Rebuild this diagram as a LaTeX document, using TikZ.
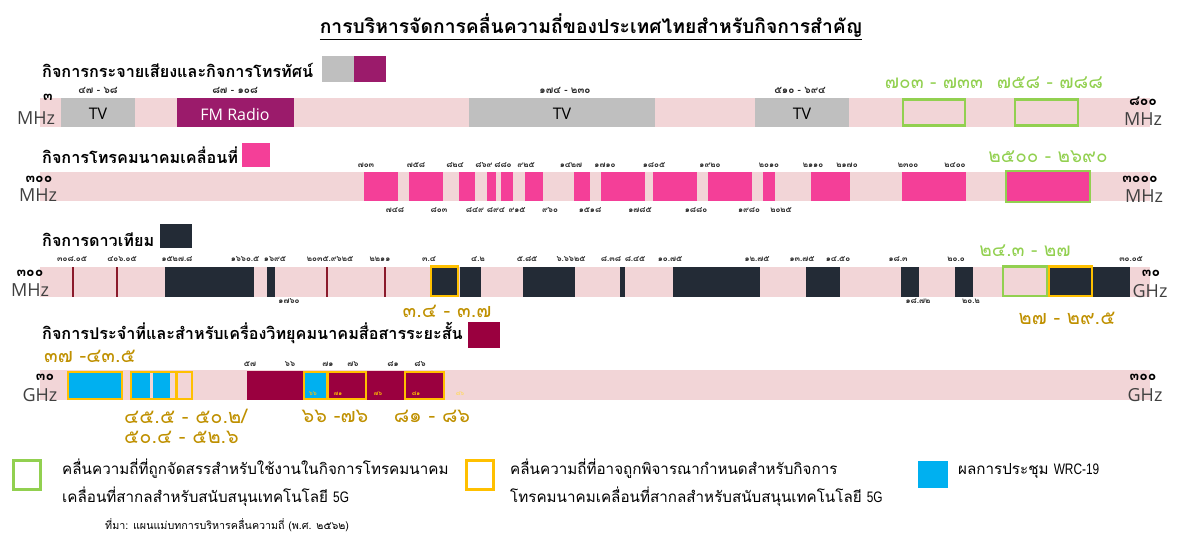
\documentclass[tikz,border=0pt]{standalone}
\usepackage{fontspec}
\setmainfont{Loma}[Script=Thai]
\newfontfamily\latf{Open Sans}
\newfontfamily\latn{Liberation Sans}[FakeStretch=0.78]
\definecolor{bandpink}{HTML}{F2D5D7}
\definecolor{tvgrey}{HTML}{BFBFBF}
\definecolor{fmmag}{HTML}{9B1B6B}
\definecolor{mobpink}{HTML}{F43F98}
\definecolor{satdark}{HTML}{232B36}
\definecolor{fixcrim}{HTML}{9A003F}
\definecolor{wrcblue}{HTML}{00B0F0}
\definecolor{ggreen}{HTML}{92D050}
\definecolor{gyellow}{HTML}{FFC000}
\definecolor{goldtext}{HTML}{BF9000}
\definecolor{thinred}{HTML}{8B1A2B}
\begin{document}
\begin{tikzpicture}[x=1pt,y=-1pt,
  sm/.style={font=\bfseries\fontsize{8}{9}\selectfont, inner sep=0pt, text=black!85},
  rng/.style={font=\bfseries\fontsize{10}{11}\selectfont, inner sep=0pt, text=black!85},
  head/.style={font=\bfseries\fontsize{16.2}{17}\selectfont, anchor=west, inner sep=0pt},
  unit/.style={font=\latf\fontsize{18}{18}\selectfont, text=black!75, inner sep=0pt},
  lim/.style={font=\bfseries\fontsize{14}{14}\selectfont, inner sep=0pt},
  glab/.style={font=\fontsize{19}{19}\selectfont, text=ggreen, inner sep=0pt},
  ylab/.style={font=\fontsize{20}{20}\selectfont, text=goldtext, inner sep=0pt},
  lgd/.style={font=\fontsize{15.2}{17}\selectfont, anchor=west, inner sep=0pt},
  boxtxt/.style={font=\latf\fontsize{16}{16}\selectfont, inner sep=0pt},
  gbox/.style={draw=ggreen, line width=2.5pt},
  ybox/.style={draw=gyellow, line width=2.5pt},
  inlab/.style={font=\bfseries\fontsize{6}{6}\selectfont, inner sep=0pt, text=gyellow}]
\useasboundingbox (0,0) rectangle (1177,535);
% title
\node[font=\bfseries\fontsize{19.3}{21}\selectfont, inner sep=0pt] (title) at (591,27)
  {\underline{การบริหารจัดการคลื่นความถี่ของประเทศไทยสำหรับกิจการสำคัญ}};

% ===== band 1 =====
\node[head] (h1) at (42,70) {กิจการกระจายเสียงและกิจการโทรทัศน์};
\fill[tvgrey] (322,56) rectangle (354,82);
\fill[fmmag] (354,56) rectangle (386,82);
\fill[bandpink] (40,98) rectangle (1150,127);
\fill[tvgrey] (61,98) rectangle (135,127);
\fill[fmmag] (177,98) rectangle (294,127);
\fill[tvgrey] (469,98) rectangle (655,127);
\fill[tvgrey] (755,98) rectangle (849,127);
\draw[gbox] (903,99.5) rectangle (965,125.5);
\draw[gbox] (1015,99.5) rectangle (1078,125.5);
\node[boxtxt] (tv1) at (98,114) {TV};
\node[boxtxt, text=white] (fm) at (235,114) {FM Radio};
\node[boxtxt] (tv2) at (562,114) {TV};
\node[boxtxt] (tv3) at (802,114) {TV};
\node[rng] (r1) at (98,90) {๔๗ - ๖๘};
\node[rng] (r2) at (235,90) {๘๗ - ๑๐๘};
\node[rng] (r3) at (565,90) {๑๗๔ - ๒๓๐};
\node[rng] (r4) at (800,90) {๕๑๐ - ๖๙๔};
\node[glab] (g1) at (934,83) {๗๐๓ - ๗๓๓};
\node[glab] (g2) at (1050,83) {๗๕๘ - ๗๘๘};
\node[lim] (l1a) at (48,97) {๓};
\node[unit] (l1b) at (36,118) {MHz};
\node[lim] (r1a) at (1143,101) {๘๐๐};
\node[unit] (r1b) at (1143,119) {MHz};

% ===== band 2 =====
\node[head] (h2) at (42,155) {กิจการโทรคมนาคมเคลื่อนที่};
\fill[mobpink] (242,143) rectangle (270,167);
\fill[bandpink] (40,172) rectangle (1150,201);
\foreach \a/\b in {364/398,409/443,459/475,487/496,501/513,525/543,574/590,601/645,653/697,708/752,763/775,811/850,902/966,1007/1089}
  \fill[mobpink] (\a,172) rectangle (\b,201);
\draw[gbox] (1006,171) rectangle (1090,202);
\foreach \x/\t in {366/๗๐๓,416/๗๕๘,455/๘๒๔,484/๘๖๙,503/๘๘๐,526/๙๒๕,571/๑๔๒๗,605/๑๗๑๐,654/๑๘๐๕,710/๑๙๒๐,769/๒๐๑๐,813/๒๑๑๐,847/๒๑๗๐,908/๒๓๐๐,955/๒๔๐๐}
  \node[sm] (mt\x) at (\x,165) {\t};
\foreach \x/\t in {395/๗๔๘,439/๘๐๓,475/๘๔๙,496/๘๙๔,517/๙๑๕,550/๙๖๐,590/๑๕๑๘,640/๑๗๘๕,696/๑๘๘๐,749/๑๙๘๐,781/๒๐๒๕}
  \node[sm] (mb\x) at (\x,210) {\t};
\node[glab] (g3) at (1048,157) {๒๕๐๐ - ๒๖๙๐};
\node[lim] (l2a) at (39,179) {๓๐๐};
\node[unit] (l2b) at (38,195) {MHz};
\node[lim] (r2a) at (1140,179) {๓๐๐๐};
\node[unit] (r2b) at (1144,196) {MHz};

% ===== band 3 =====
\node[head] (h3) at (42,240) {กิจการดาวเทียม};
\fill[satdark] (160,224) rectangle (192,248);
\fill[bandpink] (40,267) rectangle (1150,297);
\foreach \x in {73,117,327,385}
  \draw[thinred, line width=1.2pt] (\x,267) -- (\x,297);
\foreach \a/\b in {165/254,267/275,430/459,460/481,523/575,620/625,673/760,806/840,901/919,955/973,1048/1092,1093/1130}
  \fill[satdark] (\a,267) rectangle (\b,297);
\draw[ybox] (431,266.5) rectangle (458,296);
\draw[ybox] (1048.5,266.5) rectangle (1092,296);
\draw[gbox] (1003,266.5) rectangle (1047,296);
\foreach \x/\t in {72/๓๐๘.๐๕,122/๔๐๖.๐๕,177/๑๕๒๗.๘,245/๑๖๖๐.๕,275/๑๖๙๕,330/๒๐๓๕.๙๖๒๕,380/๒๒๑๑,429/๓.๔,478/๔.๒,527/๕.๘๕,571/๖.๖๖๒๕,611/๘.๓๘,635/๘.๔๕,670/๑๐.๗๕,757/๑๒.๗๕,802/๑๓.๗๕,838/๑๔.๕๐,898/๑๘.๓,956/๒๐.๐,1131/๓๐.๐๕}
  \node[sm] (st\x) at (\x,259) {\t};
\foreach \x/\t in {289/๑๗๖๐,918/๑๘.๗๒,971/๒๐.๒}
  \node[sm] (sb\x) at (\x,301) {\t};
\node[glab] (g4) at (1025,251) {๒๔.๓ - ๒๗};
\node[ylab] (y1) at (1067,318) {๒๗ - ๒๙.๕};
\node[ylab] (y2) at (447,311) {๓.๔ - ๓.๗};
\node[lim] (l3a) at (30,273) {๓๐๐};
\node[unit] (l3b) at (30,290) {MHz};
\node[lim] (r3a) at (1151,273) {๓๐};
\node[unit] (r3b) at (1150,291) {GHz};

% ===== band 4 =====
\node[head] (h4) at (42,333) {กิจการประจำที่และสำหรับเครื่องวิทยุคมนาคมสื่อสารระยะสั้น};
\fill[fixcrim] (468,322) rectangle (500,348);
\fill[bandpink] (40,370) rectangle (1150,400);
\fill[wrcblue] (68,371) rectangle (122,400);
\fill[wrcblue] (132,371) rectangle (150,400);
\fill[wrcblue] (153,371) rectangle (170,400);
\fill[fixcrim] (247,371) rectangle (303,400);
\fill[wrcblue] (303,371) rectangle (327,400);
\fill[fixcrim] (327,371) rectangle (444,400);
\draw[ybox] (68,372) rectangle (122,399);
\draw[ybox] (131,372) rectangle (176,399);
\draw[ybox] (177,372) rectangle (192,399);
\draw[ybox] (304,372) rectangle (327,399);
\draw[ybox] (328,372) rectangle (366,399);
\draw[ybox] (405,372) rectangle (444,399);
\foreach \x/\t in {250/๕๗,290/๖๖,328/๗๑,353/๗๖,393/๘๑,420/๘๖}
  \node[sm] (ft\x) at (\x,364) {\t};
\node[inlab] (i1) at (313,394) {๖๖};
\node[inlab] (i2) at (338,394) {๗๑};
\node[inlab] (i3) at (378,394) {๗๖};
\node[inlab] (i4) at (416,394) {๘๑};
\node[inlab, text=gyellow!60] (i5) at (460,394) {๘๖};
\node[ylab] (y3) at (90,356) {๓๗ -๔๓.๕};
\node[ylab, anchor=west] (y4) at (124,416) {๔๕.๕ - ๕๐.๒/};
\node[ylab, anchor=west] (y5) at (124,437) {๕๐.๔ - ๕๒.๖};
\node[ylab] (y6) at (335,416) {๖๖ -๗๖};
\node[ylab] (y7) at (432,416) {๘๑ - ๘๖};
\node[lim] (l4a) at (45,377) {๓๐};
\node[unit] (l4b) at (40,395) {GHz};
\node[lim] (r4a) at (1143,377) {๓๐๐};
\node[unit] (r4b) at (1145,395) {GHz};

% ===== legend =====
\draw[gbox] (13.5,460.5) rectangle (40.5,489.5);
\node[lgd] (t1) at (62,469) {คลื่นความถี่ที่ถูกจัดสรรสำหรับใช้งานในกิจการโทรคมนาคม};
\node[lgd] (t2) at (62,497) {เคลื่อนที่สากลสำหรับสนับสนุนเทคโนโลยี {\latn 5G}};
\draw[ybox] (466.5,460.5) rectangle (493.5,489.5);
\node[lgd] (t3) at (510,469) {คลื่นความถี่ที่อาจถูกพิจารณากำหนดสำหรับกิจการ};
\node[lgd] (t4) at (510,497) {โทรคมนาคมเคลื่อนที่สากลสำหรับสนับสนุนเทคโนโลยี {\latn 5G}};
\fill[wrcblue] (918,461) rectangle (948,488);
\node[lgd] (t5) at (958,471) {ผลการประชุม {\latn WRC-19}};
\node[font=\fontsize{10.7}{12}\selectfont, anchor=west, inner sep=0pt] (src) at (105,525) {ที่มา: แผนแม่บทการบริหารคลื่นความถี่ (พ.ศ. ๒๕๖๒)};
\end{tikzpicture}
\end{document}
